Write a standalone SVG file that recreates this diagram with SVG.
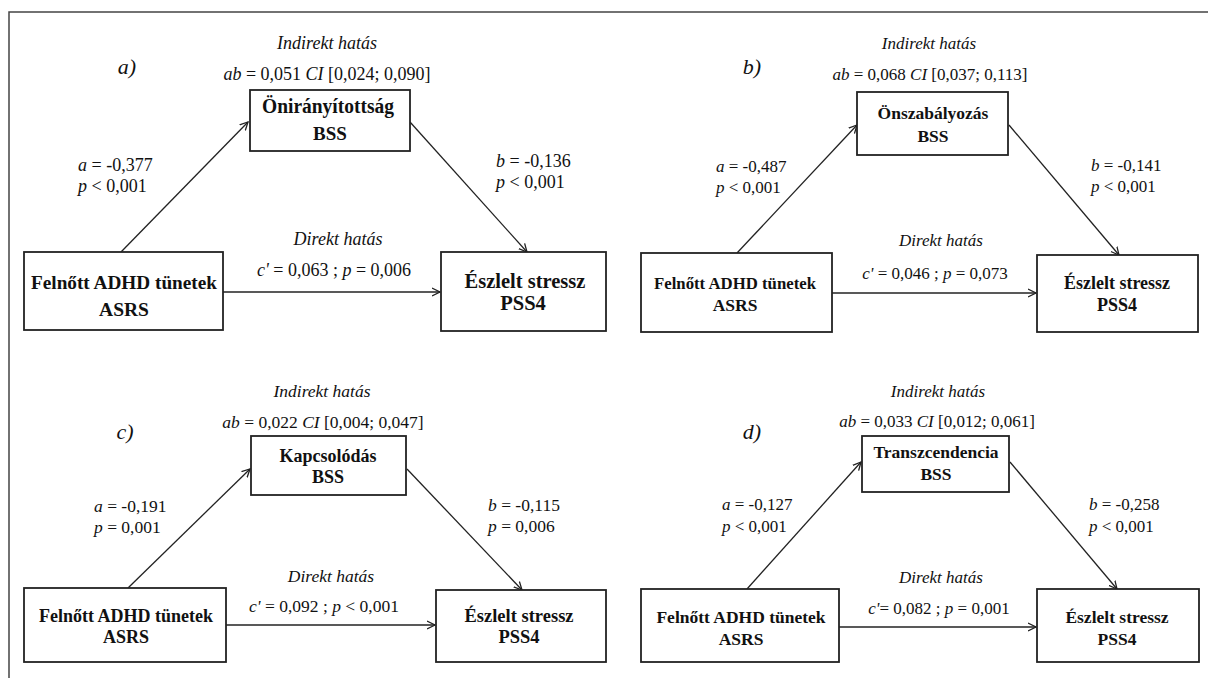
<svg xmlns="http://www.w3.org/2000/svg" width="1208" height="678" viewBox="0 0 1208 678">
<defs>
<style>
text{font-family:"Liberation Serif","Times New Roman",serif;fill:#111}
.box{fill:#fff;stroke:#222;stroke-width:1.8}
.t{font-weight:bold;text-anchor:middle}
.l{font-size:18px}
.m{text-anchor:middle}
.i{font-style:italic}
.pl{font-style:italic;font-size:22px;text-anchor:middle}
.edge{stroke:#222;stroke-width:1.3;fill:none;marker-end:url(#arr)}
.frame{stroke:#444;stroke-width:1.5;fill:none}
</style>
<marker id="arr" markerUnits="userSpaceOnUse" markerWidth="10" markerHeight="10" refX="8" refY="4" orient="auto" viewBox="0 0 10 8">
<path d="M0,0 L8,4 L0,8" fill="none" stroke="#222" stroke-width="1.3"/>
</marker>
</defs>
<rect width="1208" height="678" fill="#fff"/>
<path class="frame" d="M9,678 L9,12 L1208,12"/>

<g id="connectors">
<line class="edge" x1="121" y1="252" x2="248" y2="122"/>
<line class="edge" x1="410" y1="122" x2="527" y2="252"/>
<line class="edge" x1="223" y1="292" x2="440" y2="292"/>
<line class="edge" x1="737" y1="253" x2="857" y2="125"/>
<line class="edge" x1="1009" y1="125" x2="1119" y2="255"/>
<line class="edge" x1="832" y1="293" x2="1036" y2="293"/>
<line class="edge" x1="128" y1="588" x2="250" y2="469"/>
<line class="edge" x1="407" y1="469" x2="522" y2="590"/>
<line class="edge" x1="226" y1="625" x2="435" y2="625"/>
<line class="edge" x1="747" y1="589" x2="861" y2="462"/>
<line class="edge" x1="1010" y1="462" x2="1117" y2="589"/>
<line class="edge" x1="839" y1="627" x2="1036" y2="627"/>
</g>

<g id="labels-a" class="l">
<text class="pl" x="127" y="74">a)</text>
<text class="m i" x="327" y="49">Indirekt hatás</text>
<text class="m" x="327" y="80"><tspan class="i">ab</tspan> = 0,051 <tspan class="i">CI</tspan> [0,024; 0,090]</text>
<text x="78" y="171"><tspan class="i">a</tspan> = -0,377</text>
<text x="78" y="192"><tspan class="i">p</tspan> &lt; 0,001</text>
<text x="496" y="167"><tspan class="i">b</tspan> = -0,136</text>
<text x="496" y="188"><tspan class="i">p</tspan> &lt; 0,001</text>
<text class="m i" x="338" y="245">Direkt hatás</text>
<text class="m" x="334" y="276"><tspan class="i">c'</tspan> = 0,063 ; <tspan class="i">p</tspan> = 0,006</text>
</g>
<g id="a-mediator">
<rect class="box" x="250" y="90" width="160" height="61"/>
<text class="t" x="328" y="113" font-size="20" textLength="132" lengthAdjust="spacingAndGlyphs">Önirányítottság</text>
<text class="t" x="330" y="140" font-size="19">BSS</text>
</g>
<g id="a-adhd">
<rect class="box" x="24" y="252" width="199" height="78"/>
<text class="t" x="124" y="289" font-size="19.5" textLength="186" lengthAdjust="spacingAndGlyphs">Felnőtt ADHD tünetek</text>
<text class="t" x="124" y="316" font-size="19.5">ASRS</text>
</g>
<g id="a-stress">
<rect class="box" x="441" y="252" width="165" height="79"/>
<text class="t" x="525" y="288" font-size="20.5">Észlelt stressz</text>
<text class="t" x="523" y="310" font-size="20.5">PSS4</text>
</g>

<g id="labels-b" class="l" font-size="17">
<text class="pl" x="752" y="74">b)</text>
<text class="m i" x="929" y="49" font-size="17">Indirekt hatás</text>
<text class="m" x="930" y="80" font-size="17"><tspan class="i">ab</tspan> = 0,068 <tspan class="i">CI</tspan> [0,037; 0,113]</text>
<text x="716" y="172" font-size="17"><tspan class="i">a</tspan> = -0,487</text>
<text x="716" y="193" font-size="17"><tspan class="i">p</tspan> &lt; 0,001</text>
<text x="1091" y="171" font-size="17"><tspan class="i">b</tspan> = -0,141</text>
<text x="1091" y="192" font-size="17"><tspan class="i">p</tspan> &lt; 0,001</text>
<text class="m i" x="941" y="246" font-size="17">Direkt hatás</text>
<text class="m" x="935" y="279" font-size="17"><tspan class="i">c'</tspan> = 0,046 ; <tspan class="i">p</tspan> = 0,073</text>
</g>
<g id="b-mediator">
<rect class="box" x="857" y="92" width="151" height="63"/>
<text class="t" x="933" y="119" font-size="17.5">Önszabályozás</text>
<text class="t" x="933" y="142" font-size="17.5">BSS</text>
</g>
<g id="b-adhd">
<rect class="box" x="641" y="253" width="191" height="79"/>
<text class="t" x="735" y="289" font-size="17" textLength="162" lengthAdjust="spacingAndGlyphs">Felnőtt  ADHD tünetek</text>
<text class="t" x="735" y="311" font-size="17.5">ASRS</text>
</g>
<g id="b-stress">
<rect class="box" x="1037" y="255" width="161" height="77"/>
<text class="t" x="1117" y="289" font-size="18">Észlelt stressz</text>
<text class="t" x="1117" y="311" font-size="18">PSS4</text>
</g>

<g id="labels-c" class="l">
<text class="pl" x="125" y="439">c)</text>
<text class="m i" x="322" y="397" font-size="17.5">Indirekt hatás</text>
<text class="m" x="323" y="428" font-size="17.5"><tspan class="i">ab</tspan> = 0,022 <tspan class="i">CI</tspan> [0,004; 0,047]</text>
<text x="94" y="512" font-size="17.5"><tspan class="i">a</tspan> = -0,191</text>
<text x="94" y="533" font-size="17.5"><tspan class="i">p</tspan> = 0,001</text>
<text x="488" y="511" font-size="17.5"><tspan class="i">b</tspan> = -0,115</text>
<text x="488" y="532" font-size="17.5"><tspan class="i">p</tspan> = 0,006</text>
<text class="m i" x="331" y="582" font-size="17.5">Direkt hatás</text>
<text class="m" x="324" y="612" font-size="17.5"><tspan class="i">c'</tspan> = 0,092 ; <tspan class="i">p</tspan> &lt; 0,001</text>
</g>
<g id="c-mediator">
<rect class="box" x="251" y="436" width="155" height="59"/>
<text class="t" x="328" y="462" font-size="18">Kapcsolódás</text>
<text class="t" x="328" y="483" font-size="18">BSS</text>
</g>
<g id="c-adhd">
<rect class="box" x="24" y="588" width="202" height="74"/>
<text class="t" x="126" y="622" font-size="18">Felnőtt ADHD  tünetek</text>
<text class="t" x="126" y="643" font-size="18">ASRS</text>
</g>
<g id="c-stress">
<rect class="box" x="436" y="590" width="170" height="72"/>
<text class="t" x="519" y="622" font-size="18.5">Észlelt stressz</text>
<text class="t" x="519" y="643" font-size="18.5">PSS4</text>
</g>

<g id="labels-d" class="l">
<text class="pl" x="752" y="439">d)</text>
<text class="m i" x="938" y="397" font-size="17">Indirekt hatás</text>
<text class="m" x="937" y="427" font-size="17"><tspan class="i">ab</tspan> = 0,033 <tspan class="i">CI</tspan> [0,012; 0,061]</text>
<text x="722" y="510" font-size="17"><tspan class="i">a</tspan> = -0,127</text>
<text x="722" y="532" font-size="17"><tspan class="i">p</tspan> &lt; 0,001</text>
<text x="1089" y="510" font-size="17"><tspan class="i">b</tspan> = -0,258</text>
<text x="1089" y="532" font-size="17"><tspan class="i">p</tspan> &lt; 0,001</text>
<text class="m i" x="941" y="583" font-size="17">Direkt hatás</text>
<text class="m" x="939" y="614" font-size="17"><tspan class="i">c'</tspan>= 0,082 ; <tspan class="i">p</tspan> = 0,001</text>
</g>
<g id="d-mediator">
<rect class="box" x="862" y="436" width="147" height="56"/>
<text class="t" x="936" y="458" font-size="17.5">Transzcendencia</text>
<text class="t" x="936" y="480" font-size="17.5">BSS</text>
</g>
<g id="d-adhd">
<rect class="box" x="641" y="589" width="198" height="73"/>
<text class="t" x="741" y="623" font-size="17.5">Felnőtt ADHD tünetek</text>
<text class="t" x="741" y="645" font-size="17.5">ASRS</text>
</g>
<g id="d-stress">
<rect class="box" x="1037" y="589" width="162" height="73"/>
<text class="t" x="1117" y="623" font-size="17.5">Észlelt stressz</text>
<text class="t" x="1117" y="645" font-size="17.5">PSS4</text>
</g>
</svg>
